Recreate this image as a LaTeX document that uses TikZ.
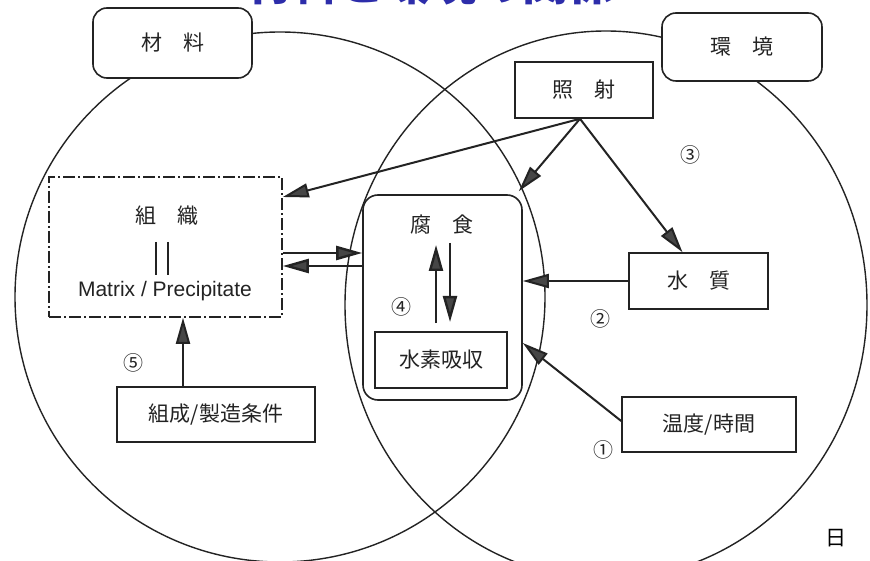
\documentclass[tikz,border=0pt]{standalone}
\usepackage{fontspec}
\setmainfont{Liberation Sans}
\newfontfamily\jp{Noto Sans CJK JP}
\usetikzlibrary{arrows.meta,calc}
\definecolor{ttl}{RGB}{45,45,170}
\definecolor{ink}{RGB}{35,35,35}
\definecolor{headfill}{RGB}{70,70,70}
\begin{document}
\begin{tikzpicture}[x=1pt,y=-1pt,
  box/.style={draw=ink, line width=1.6pt, inner sep=0pt, fill=white, text=ink,
    font=\jp\fontsize{21}{24}\selectfont},
  rbox/.style={box, rounded corners=14pt},
  lbl/.style={inner sep=0pt, text=ink, font=\jp\fontsize{21}{24}\selectfont},
  arr/.style={draw=ink, line width=2pt,
    -{Triangle[length=26pt,width=14pt,fill=headfill]}},
  num/.style={inner sep=0pt, text=ink, font=\jp\fontsize{20}{22}\selectfont},
  ring/.style={draw=ink, line width=1.4pt}]
\useasboundingbox (0,0) rectangle (870,561);
\fill[white] (0,0) rectangle (870,561);
\begin{scope}
  \clip (0,0) rectangle (870,561);
  \node[anchor=base, inner sep=0pt, text=ttl, font=\jp\bfseries\fontsize{46}{50}\selectfont] (title) at (430,1) {材料と環境の関係};
\end{scope}
% circles
\draw[ring] (280,297) circle[radius=265pt];
\draw[ring] (606,305) ellipse[x radius=261pt, y radius=274pt];
% boxes
\node[rbox, minimum width=159pt, minimum height=70pt] (zai) at (172.5,43) {材\hspace{1em}料};
\node[rbox, minimum width=160pt, minimum height=68pt] (kan) at (742,47) {環\hspace{1em}境};
\node[box, minimum width=138pt, minimum height=56pt] (sho) at (584,90) {照\hspace{1em}射};
\node[box, minimum width=233pt, minimum height=140pt, line width=1.6pt,
  dash pattern=on 12pt off 3pt on 2pt off 3pt] (sosiki) at (165.5,247) {};
\node[lbl] (sosikilbl) at (167,216) {組\hspace{1em}織};
\node[inner sep=0pt, text=ink, font=\fontsize{21}{24}\selectfont] (matrix) at (165,291) {Matrix / Precipitate};
\draw[ink, line width=1.5pt] (156,242) -- (156,275) (168,242) -- (168,275);
\node[rbox, rounded corners=15pt, minimum width=159pt, minimum height=205pt] (fushoku) at (442.5,297.5) {};
\node[lbl] (fulbl) at (442,225) {腐\hspace{1em}食};
\node[box, minimum width=132pt, minimum height=56pt] (suiso) at (441,360) {水素吸収};
\node[box, minimum width=139pt, minimum height=56pt] (suishitsu) at (698.5,281) {水\hspace{1em}質};
\node[box, minimum width=174pt, minimum height=55pt] (ondo) at (709,424.5) {温度/時間};
\node[box, minimum width=198pt, minimum height=55pt] (sosei) at (216,414.5) {組成/製造条件};
% connectors
\draw[arr] ([xshift=-4pt]sho.south) -- ([yshift=50pt]sosiki.east);
\draw[arr] ([xshift=-4pt]sho.south) -- ([xshift=-4pt,yshift=3pt]fushoku.north east);
\draw[arr] ([xshift=-4pt]sho.south) -- ([xshift=-16pt]suishitsu.north);
\draw[arr] (suishitsu.west) -- (suishitsu.west -| fushoku.east);
\draw[arr] ([yshift=3.5pt]ondo.west) -- ([yshift=-45.5pt]fushoku.east);
\draw[arr] ([xshift=-33pt]sosei.north) -- ([xshift=-33pt]sosei.north |- sosiki.south);
\draw[arr, line width=2.4pt] ([yshift=-6pt]sosiki.east) -- ([yshift=-6pt]sosiki.east -| fushoku.west);
\draw[arr, line width=2.4pt] ([yshift=31.5pt]fushoku.west) -- ([yshift=31.5pt]fushoku.west -| sosiki.east);
\coordinate (upa) at (436,323);
\coordinate (upb) at (436,245);
\coordinate (dna) at (450,243);
\coordinate (dnb) at (450,322);
\draw[arr, line width=2.4pt] (upa) -- (upb);
\draw[arr, line width=2.4pt] (dna) -- (dnb);
% numbers
\node[num] (n3) at (690,155) {③};
\node[num] (n2) at (600,319) {②};
\node[num] (n1) at (603,450) {①};
\node[num] (n4) at (401,307) {④};
\node[num] (n5) at (133,363) {⑤};
\node[inner sep=0pt, font=\jp\fontsize{21}{22}\selectfont] (hi) at (836,538) {日};
\end{tikzpicture}
\end{document}
